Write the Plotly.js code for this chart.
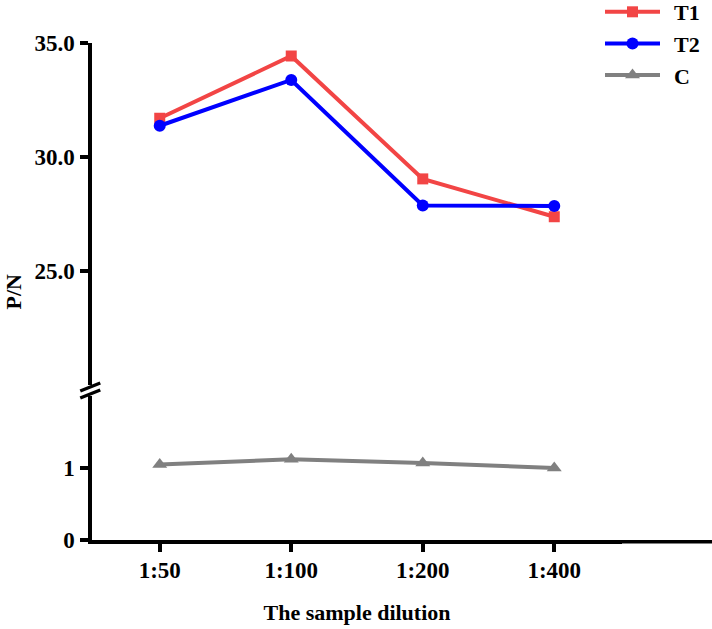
<!DOCTYPE html>
<html>
<head>
<meta charset="utf-8">
<script src="https://cdn.plot.ly/plotly-3.0.1.min.js"></script>
<style>
  html, body { margin: 0; padding: 0; background: #fff; }
  #chart { width: 712px; height: 629px; }
</style>
</head>
<body>
<div id="chart"></div>
<script>
// Sample dilutions (x categories)
const dilutions = ['1:50', '1:100', '1:200', '1:400'];

// P/N ratios per group
const t1Values = [31.7, 34.43, 29.04, 27.38];
const t2Values = [31.37, 33.38, 27.87, 27.85];
const cValues = [1.05, 1.12, 1.07, 1.00];

// Tick positions and labels for the two y-axis segments
const upperTickVals = [25, 30, 35];
const upperTickText = ['25.0', '30.0', '35.0'];
const lowerTickVals = [0, 1];
const lowerTickText = ['0', '1'];

const FONT = 'Liberation Serif, Times New Roman, serif';
const INK = '#000000';
const AXIS_W = 3.5;

// Plot area geometry (pixels)
const W = 712, H = 629;
const M = { l: 92, r: 90, t: 43, b: 89, autoexpand: false };
const plotH = H - M.t - M.b;
const plotW = W - M.l - M.r;
const lowerTop = 144 / plotH;            // 0..2 segment
const upperBottom = (540 - 385) / plotH; // 20..35 segment

const traces = [
  {
    name: 'T1', x: dilutions, y: t1Values, yaxis: 'y2',
    type: 'scatter', mode: 'lines+markers',
    line: { color: '#F24545', width: 4 },
    marker: { symbol: 'square', size: 11, color: '#F24545' }
  },
  {
    name: 'T2', x: dilutions, y: t2Values, yaxis: 'y2',
    type: 'scatter', mode: 'lines+markers',
    line: { color: '#0000FF', width: 4 },
    marker: { symbol: 'circle', size: 12, color: '#0000FF' }
  },
  {
    name: 'C', x: dilutions, y: cValues, yaxis: 'y',
    type: 'scatter', mode: 'lines+markers',
    line: { color: '#808080', width: 4 },
    marker: { symbol: 'triangle-up', size: 13, color: '#808080' }
  }
];

const tickFont = { family: FONT, size: 23, color: INK, weight: 'bold' };

// Two slanted strokes marking the axis break
const axisX = -(AXIS_W / 2) / plotW;
const slashDx = 10 / plotW, slashDy = 4 / plotH;
function slash(yc) {
  return {
    type: 'line', xref: 'paper', yref: 'paper',
    x0: axisX - slashDx, y0: yc - slashDy, x1: axisX + slashDx, y1: yc + slashDy,
    line: { color: INK, width: 3.5 }
  };
}

function yAxisBase() {
  return {
    showline: true, linecolor: INK, linewidth: AXIS_W,
    ticks: 'outside', ticklen: 8, tickwidth: AXIS_W, tickcolor: INK,
    ticklabelstandoff: 1,
    tickfont: tickFont,
    showgrid: false, zeroline: false
  };
}

const layout = {
  width: W, height: H,
  margin: M,
  paper_bgcolor: '#ffffff',
  plot_bgcolor: '#ffffff',
  showlegend: true,
  legend: {
    x: (600 - M.l) / plotW, xanchor: 'left',
    y: 1 + (M.t + 9) / plotH, yanchor: 'top',
    font: { family: FONT, size: 22, color: INK, weight: 'bold' },
    itemwidth: 64,
    tracegroupgap: 0,
    bgcolor: 'rgba(0,0,0,0)'
  },
  xaxis: {
    type: 'category',
    range: [-0.515, 3.515],
    showline: true, linecolor: INK, linewidth: AXIS_W,
    ticks: 'outside', ticklen: 8, tickwidth: AXIS_W, tickcolor: INK,
    ticklabelstandoff: -1,
    tickfont: tickFont,
    showgrid: false, zeroline: false,
    title: { text: 'The sample dilution', font: { family: FONT, size: 22, color: INK, weight: 'bold' }, standoff: 23 }
  },
  yaxis: Object.assign(yAxisBase(), {
    domain: [0, lowerTop],
    range: [0, 2],
    tickvals: lowerTickVals, ticktext: lowerTickText
  }),
  yaxis2: Object.assign(yAxisBase(), {
    domain: [upperBottom, 1],
    range: [20, 35],
    tickvals: upperTickVals, ticktext: upperTickText
  }),
  shapes: [
    // x-axis line continues past the last category to the edge
    {
      type: 'line', xref: 'paper', yref: 'paper',
      x0: 0.95, y0: -(AXIS_W / 2) / plotH, x1: 1 + M.r / plotW, y1: -(AXIS_W / 2) / plotH,
      line: { color: INK, width: AXIS_W }
    },
    slash(upperBottom - 2 / plotH),
    slash(lowerTop + 2 / plotH)
  ],
  annotations: [
    {
      text: 'P/N', xref: 'paper', yref: 'paper',
      x: (13 - M.l) / plotW, y: 0.5, xanchor: 'center', yanchor: 'middle',
      textangle: -90, showarrow: false,
      font: { family: FONT, size: 22, color: INK, weight: 'bold' }
    }
  ]
};

// Longer legend sample lines with the marker centred on them
function styleLegend() {
  const gd = document.getElementById('chart');
  gd.querySelectorAll('.legend .traces').forEach(function (g) {
    g.querySelectorAll('.legendlines path').forEach(function (p) {
      p.setAttribute('d', 'M5,0h55');
    });
    g.querySelectorAll('.legendpoints path').forEach(function (p) {
      p.setAttribute('transform', 'translate(32.5,0)');
    });
  });
}

Plotly.newPlot('chart', traces, layout, { displayModeBar: false, responsive: false })
  .then(function (gd) {
    styleLegend();
    gd.on('plotly_afterplot', styleLegend);
  });
</script>
</body>
</html>
